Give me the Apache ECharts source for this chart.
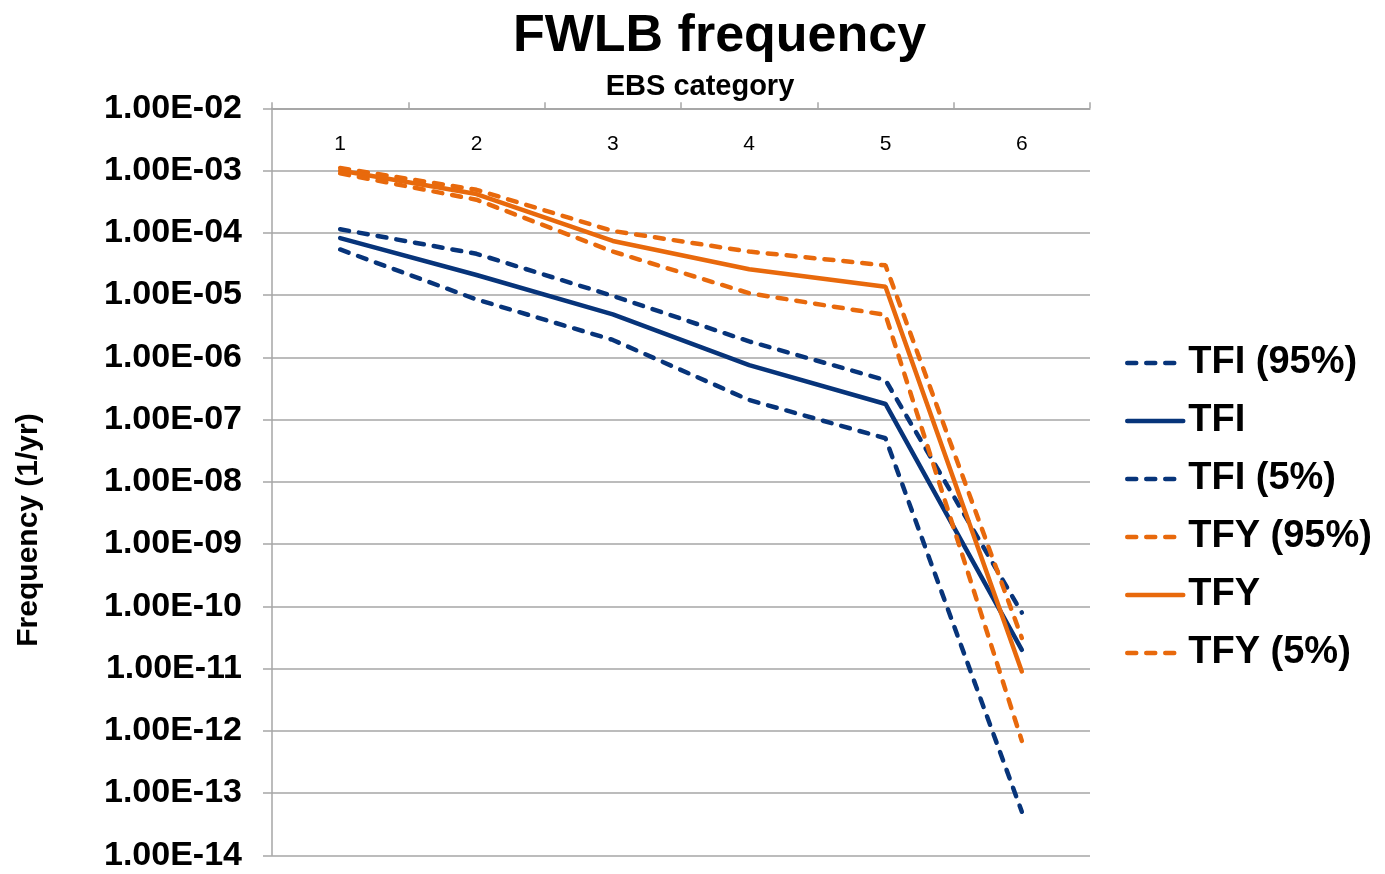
<!DOCTYPE html>
<html>
<head>
<meta charset="utf-8">
<script src="https://cdn.jsdelivr.net/npm/echarts@6/dist/echarts.min.js"></script>
<style>html,body{margin:0;padding:0;background:#fff;}#chart{width:1385px;height:874px;}</style>
</head>
<body>
<div id="chart"></div>
<script>
const categories = ['1', '2', '3', '4', '5', '6'];
const seriesNames = ['TFI (95%)', 'TFI', 'TFI (5%)', 'TFY (95%)', 'TFY', 'TFY (5%)'];
const tfi95 = [1.14e-4, 4.6e-5, 9.7e-6, 1.8e-6, 4.3e-7, 7.9e-11];
const tfi   = [8.2e-5, 2.1e-5, 4.9e-6, 7.5e-7, 1.78e-7, 2.0e-11];
const tfi5  = [5.4e-5, 8.5e-6, 1.9e-6, 2.06e-7, 5.0e-8, 5.0e-14];
const tfy95 = [1.1e-3, 4.9e-4, 1.07e-4, 5.0e-5, 3.0e-5, 3.1e-11];
const tfy   = [1.0e-3, 4.2e-4, 7.4e-5, 2.6e-5, 1.36e-5, 9.0e-12];
const tfy5  = [9.0e-4, 3.4e-4, 5.0e-5, 1.07e-5, 4.8e-6, 6.9e-13];
const yMin = 1e-14, yMax = 1e-2;

const FONT = '"Liberation Sans", Arial, sans-serif';
const BLUE = '#07347a';
const ORANGE = '#e8690c';
const GRID = '#a6a6a6';

function fmt(v) {
  const s = Number(v).toExponential(2).toUpperCase();
  const m = s.match(/^([\d.]+)E([+-])(\d+)$/);
  if (!m) return s;
  const exp = m[3].length < 2 ? '0' + m[3] : m[3];
  return m[1] + 'E' + m[2] + exp;
}

function mk(name, data, color, dashed) {
  return {
    name: name, type: 'line', data: data, symbol: 'none', showSymbol: false,
    lineStyle: { color: color, width: 4.5, type: dashed ? [9, 10] : 'solid', cap: 'round' },
    itemStyle: { color: color },
    emphasis: { disabled: true }
  };
}

const chart = echarts.init(document.getElementById('chart'), null, { renderer: 'canvas' });
chart.setOption({
  animation: false,
  backgroundColor: '#fff',
  title: {
    text: 'FWLB frequency', left: 513, top: 11, padding: 0,
    textStyle: { fontFamily: FONT, fontSize: 52, fontWeight: 'bold', color: '#000' }
  },
  grid: { left: 272, top: 108.3, right: 295, bottom: 18.7, containLabel: false },
  legend: {
    orient: 'vertical', left: 1125, top: 343, padding: 0, itemWidth: 56, itemHeight: 14, itemGap: 18,
    data: seriesNames,
    itemStyle: { opacity: 0 },
    lineStyle: { width: 4.5 },
    textStyle: { fontFamily: FONT, fontSize: 38, fontWeight: 'bold', color: '#000', lineHeight: 40 }
  },
  xAxis: {
    type: 'category', position: 'top', data: categories, boundaryGap: true,
    name: 'EBS category', nameLocation: 'middle', nameGap: 7,
    nameTextStyle: { fontFamily: FONT, fontSize: 29, fontWeight: 'bold', color: '#000', padding: [0, 0, 0, 38] },
    axisLine: { show: true, lineStyle: { color: GRID, width: 1.5 } },
    axisTick: { show: true, inside: false, length: 6, alignWithLabel: false, lineStyle: { color: GRID, width: 1.5 } },
    axisLabel: { inside: true, margin: 25, fontFamily: FONT, fontSize: 21, color: '#000' },
    splitLine: { show: false }
  },
  yAxis: {
    type: 'log', logBase: 10, min: yMin, max: yMax, interval: 1, splitNumber: 12,
    axisLine: { show: true, lineStyle: { color: GRID, width: 1.5 } },
    axisTick: { show: true, inside: false, length: 9, lineStyle: { color: GRID, width: 1.5 } },
    minorTick: { show: false },
    axisLabel: { margin: 30, fontFamily: FONT, fontSize: 34, fontWeight: 'bold', color: '#000', formatter: fmt, padding: [4, 0, 0, 0] },
    splitLine: { show: true, lineStyle: { color: GRID, width: 1.5 } }
  },
  graphic: [{
    type: 'text', x: 29, y: 530, rotation: Math.PI / 2,
    style: { text: 'Frequency (1/yr)', fontFamily: FONT, fontSize: 30, fontWeight: 'bold', fill: '#000', align: 'center', verticalAlign: 'middle' }
  }],
  series: [
    mk(seriesNames[0], tfi95, BLUE, true),
    mk(seriesNames[1], tfi, BLUE, false),
    mk(seriesNames[2], tfi5, BLUE, true),
    mk(seriesNames[3], tfy95, ORANGE, true),
    mk(seriesNames[4], tfy, ORANGE, false),
    mk(seriesNames[5], tfy5, ORANGE, true)
  ]
});
</script>
</body>
</html>
